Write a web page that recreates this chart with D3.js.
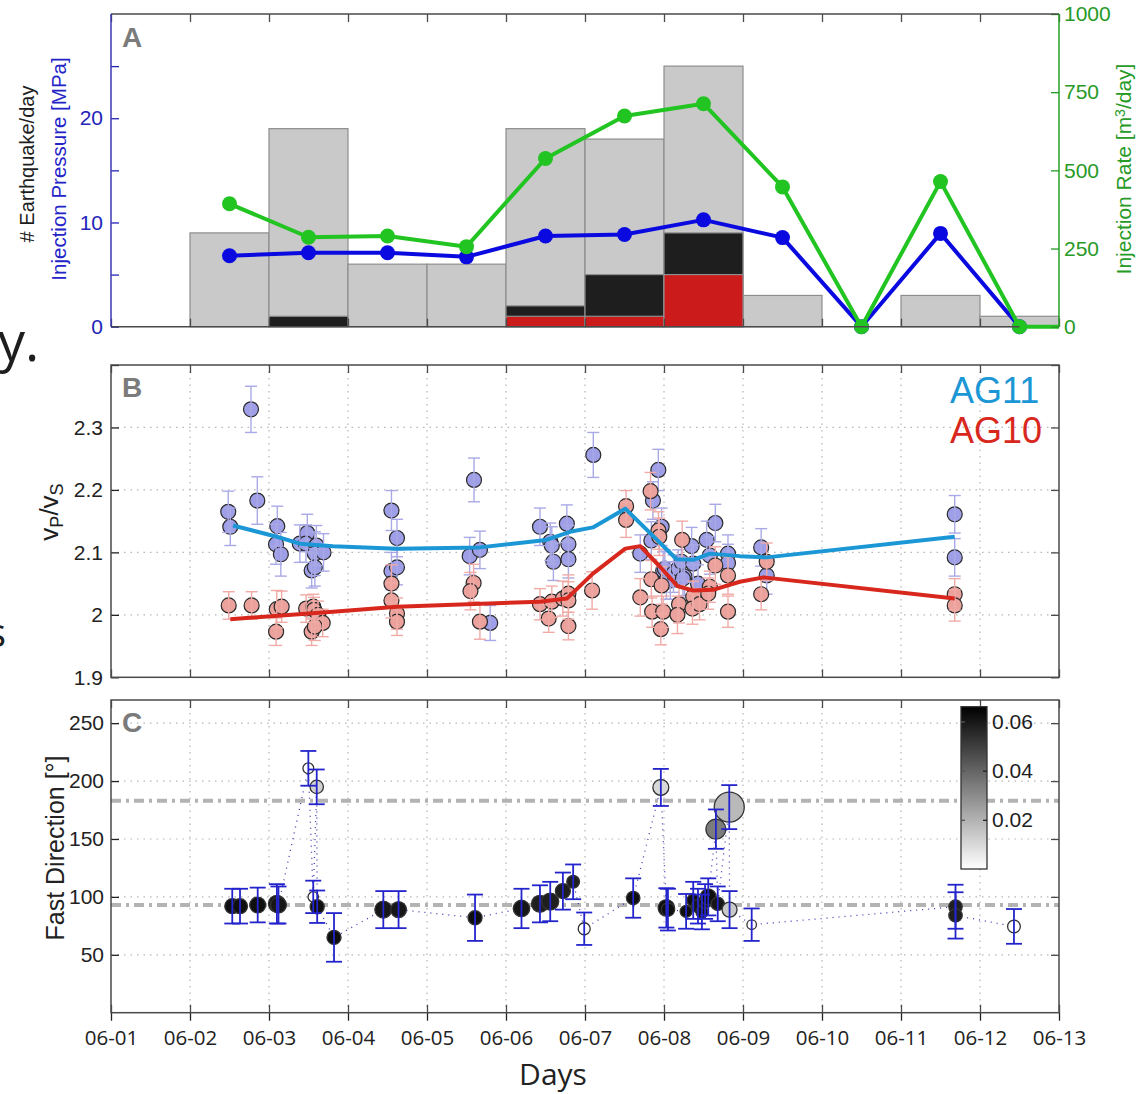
<!DOCTYPE html>
<html><head><meta charset="utf-8">
<script src="https://cdn.jsdelivr.net/npm/d3@7"></script>
<style>body{margin:0;background:#fff}svg{display:block}</style>
</head><body>
<svg id="c" width="1140" height="1094"></svg>
<script>
// ---------- shared ----------
const dayTicks = [0,1,2,3,4,5,6,7,8,9,10,11,12];
const dayLabels = ["06-01","06-02","06-03","06-04","06-05","06-06","06-07","06-08","06-09","06-10","06-11","06-12","06-13"];

// ---------- panel A ----------
const binStart = [1,2,3,4,5,6,7,8,9,10,11];
const eqTotal  = [9,19,6,6,19,18,25,3,0,3,1];
const eqLarge  = [0,1,0,0,2,5,9,0,0,0,0];
const eqFelt   = [0,0,0,0,1,1,5,0,0,0,0];
const injDay   = [1.5,2.5,3.5,4.5,5.5,6.5,7.5,8.5,9.5,10.5,11.5];
const pressure = [6.8,7.1,7.1,6.7,8.7,8.85,10.25,8.55,0,8.95,0];
const rate     = [393,286,290,256,538,674,713,447,0,464,0];
const rateEndDay = 12, rateEndVal = 0;
const aLeftTicks = [0,5,10,15,20,25];
const aRightTicks = [0,250,500,750,1000];

// ---------- panel B ----------
const ag11Day = [1.484,1.51,1.772,1.852,2.105,2.089,2.15,2.39,2.485,2.468,2.6,2.58,2.69,2.54,2.58,3.55,3.62,3.55,3.62,4.595,4.54,4.67,4.80,5.43,5.56,5.58,5.60,5.77,5.79,5.79,6.105,6.928,6.86,6.84,6.97,6.70,6.99,7.03,7.08,7.01,7.12,7.18,7.22,7.26,7.24,7.35,7.37,7.43,7.54,7.58,7.65,7.81,7.81,8.23,8.30,10.68,10.68];
const ag11Vp  = [2.165,2.141,2.329,2.183,2.142,2.113,2.097,2.114,2.131,2.114,2.111,2.098,2.1,2.071,2.076,2.167,2.123,2.07,2.076,2.216,2.094,2.104,1.987,2.141,2.117,2.111,2.085,2.146,2.113,2.089,2.256,2.232,2.183,2.119,2.141,2.098,2.071,2.055,2.055,2.074,2.066,2.074,2.085,2.061,2.058,2.11,2.082,2.05,2.12,2.095,2.147,2.098,2.083,2.108,2.063,2.161,2.092];
const ag11Err = [0.033,0.03,0.037,0.038,0.032,0.032,0.035,0.03,0.03,0.03,
                 0.032,0.035,0.03,0.028,0.03,0.032,0.03,0.03,0.028,0.035,
                 0.03,0.03,0.028,0.03,0.03,0.03,0.03,0.03,0.03,0.03,
                 0.036,0.033,0.03,0.03,0.03,0.03,0.03,0.03,0.03,0.03,
                 0.03,0.03,0.03,0.03,0.03,0.03,0.03,0.03,0.03,0.03,
                 0.03,0.03,0.03,0.03,0.03,0.03,0.03];
const ag10Day = [1.49,1.78,2.098,2.16,2.09,2.47,2.56,2.57,2.62,2.68,2.54,2.58,3.55,3.55,3.62,3.62,4.59,4.55,4.67,5.43,5.58,5.54,5.72,5.79,5.79,5.79,6.09,6.52,6.52,6.83,6.70,6.84,6.85,6.93,6.94,6.97,6.99,6.96,7.23,7.19,7.17,7.37,7.36,7.45,7.58,7.56,7.65,7.81,7.81,8.23,8.30,10.68,10.68];
const ag10Vp  = [2.015,2.015,2.009,2.013,1.973,2.010,2.013,2.008,2.0,1.987,1.973,1.981,2.05,2.023,2.002,1.989,2.051,2.038,1.989,2.017,2.021,1.994,2.026,2.034,2.023,1.982,2.039,2.174,2.152,2.198,2.028,2.057,2.005,2.135,2.125,2.047,2.005,1.977,2.12,2.017,2.0,2.029,2.01,2.017,2.045,2.034,2.079,2.063,2.005,2.033,2.085,2.033,2.015];
const ag10Err = [0.022,0.022,0.03,0.025,0.022,0.022,0.02,0.02,0.022,0.022,
                 0.022,0.022,0.03,0.028,0.025,0.022,0.03,0.03,0.028,0.025,
                 0.025,0.022,0.028,0.03,0.03,0.022,0.03,0.025,0.028,0.03,
                 0.03,0.03,0.025,0.03,0.03,0.03,0.025,0.025,0.03,0.03,
                 0.03,0.025,0.025,0.025,0.025,0.025,0.03,0.03,0.025,0.025,
                 0.03,0.025,0.025];
const ag11TrendDay = [1.545,2.1,2.39,2.81,3.62,4.67,5.51,5.81,6.1,6.51,7.16,7.37,7.58,7.96,8.30,10.68];
const ag11Trend    = [2.143,2.125,2.114,2.110,2.106,2.108,2.12,2.133,2.140,2.170,2.089,2.088,2.098,2.094,2.092,2.125];
const ag10TrendDay = [1.51,2.81,3.62,5.43,5.77,6.1,6.51,6.70,6.95,7.17,7.37,7.62,7.96,8.26,10.68];
const ag10Trend    = [1.993,2.005,2.013,2.021,2.026,2.066,2.106,2.110,2.077,2.046,2.039,2.040,2.053,2.060,2.026];
const bTicks = [1.9,2.0,2.1,2.2,2.3,2.4];
const bLabels = ["1.9","2","2.1","2.2","2.3",""];

// ---------- panel C ----------
const cDay = [1.535,1.633,1.857,2.10,2.12,2.498,2.56,2.604,2.61,2.823,3.447,3.64,4.608,5.196,5.43,5.56,5.72,5.85,5.99,6.61,6.96,7.03,7.05,7.28,7.37,7.43,7.48,7.52,7.56,7.657,7.68,7.826,7.83,8.11,10.69,10.69,11.43];
const cDir = [92,92,93,94,93,211,100,195,91.5,65,89,89,82,90,94,96,105,113,72.5,99,194.5,90.5,89,87.5,97,92,87,96,100,158.5,94,177.5,89,76,91.5,84,74.5];
const cErr = [15,15,15,17,16,15,14,15,14,21,16,16,20,17,16,17,16,15,14,17,16,17,18,15,16,15,15,15,16,17,15,19,16,14,19,20,15];
const cAmp = [0.25,0.25,0.28,0.32,0.28,0.13,0.12,0.2,0.22,0.22,0.32,0.28,0.22,0.3,0.32,0.32,0.25,0.18,0.16,0.2,0.28,0.3,0.2,0.16,0.18,0.2,0.16,0.2,0.28,0.44,0.2,1.0,0.25,0.1,0.2,0.2,0.18];
const cVal = [0.062,0.062,0.062,0.06,0.06,0,0,0.012,0.062,0.062,0.06,0.06,0.062,0.06,0.058,0.058,0.058,0.058,0,0.062,0.01,0.062,0.062,0.062,0.062,0.06,0.06,0.06,0.062,0.034,0.06,0.018,0.014,0,0.058,0.058,0];
const cRefLines = [183, 93];
const cTicks = [50,100,150,200,250];
const cbTicks = [0.02,0.04,0.06];

// ================= drawing =================
const svg = d3.select("#c");
const SANS = "'Liberation Sans', Arial, Helvetica, sans-serif";
const OPEN = "'Open Sans', 'Liberation Sans', sans-serif";
const FRAME = "#4a4a4a";
const x = d3.scaleLinear().domain([0,12]).range([111,1059]);

function styleAxis(g, color, size, family){
  g.select(".domain").remove();
  g.attr("font-family", family || SANS).attr("font-size", size || 18);
  g.selectAll(".tick line").attr("stroke", color).attr("stroke-width", 1.3);
  g.selectAll(".tick text").attr("fill", color);
}
function gridLines(g, yScale, yVals, top, bottom){
  const dash = "1.5,5";
  g.selectAll(null).data(dayTicks.slice(1,-1)).join("line")
    .attr("x1", d=>x(d)).attr("x2", d=>x(d)).attr("y1", top).attr("y2", bottom)
    .attr("stroke", "#b5b5b5").attr("stroke-width", 1.2).attr("stroke-dasharray", dash);
  g.selectAll(null).data(yVals).join("line")
    .attr("x1", x(0)).attr("x2", x(12)).attr("y1", d=>yScale(d)).attr("y2", d=>yScale(d))
    .attr("stroke", "#b5b5b5").attr("stroke-width", 1.2).attr("stroke-dasharray", dash);
}
function dayTickAxes(g, top, bottom){
  g.append("g").attr("transform", `translate(0,${top})`)
    .call(d3.axisTop(x).tickValues(dayTicks).tickSize(-8).tickFormat(""))
    .call(a=>styleAxis(a, FRAME));
  g.append("g").attr("transform", `translate(0,${bottom})`)
    .call(d3.axisBottom(x).tickValues(dayTicks).tickSize(-8).tickFormat(""))
    .call(a=>styleAxis(a, FRAME));
}
function panelLetter(t, yBase){
  svg.append("text").attr("x", 122).attr("y", yBase).text(t)
    .attr("font-family", SANS).attr("font-weight", "bold").attr("font-size", 28).attr("fill", "#7b7b7b");
}

// ---------- stray page text at left edge ----------
svg.append("text").attr("x", -2).attr("y", 361).text("y.")
  .attr("font-family", OPEN).attr("font-size", 54).attr("fill", "#1e1e1e");
svg.append("text").attr("x", -13).attr("y", 647).text("s")
  .attr("font-family", OPEN).attr("font-size", 40).attr("fill", "#1e1e1e");

// ---------- Panel A ----------
const aTop = 14, aBot = 326.7;
const yA = d3.scaleLinear().domain([0,30]).range([aBot, aTop]);
const yR = d3.scaleLinear().domain([0,1000]).range([aBot, aTop]);
const gA = svg.append("g");
const bars = binStart.map((d,i)=>({d, tot:eqTotal[i], lg:eqLarge[i], fe:eqFelt[i]}));
function barLayer(key, fill){
  gA.selectAll(null).data(bars.filter(b=>b[key]>0)).join("rect")
    .attr("x", b=>x(b.d)).attr("width", b=>x(b.d+1)-x(b.d))
    .attr("y", b=>yA(b[key])).attr("height", b=>yA(0)-yA(b[key]))
    .attr("fill", fill).attr("stroke", "#8e8e8e").attr("stroke-width", 1.2);
}
barLayer("tot", "#c9c9c9");
barLayer("lg", "#1e1e1e");
barLayer("fe", "#cc1b1b");

const presPts = injDay.map((d,i)=>[d, pressure[i]]);
const ratePts = injDay.map((d,i)=>[d, rate[i]]);
gA.append("path").datum(presPts)
  .attr("d", d3.line().x(p=>x(p[0])).y(p=>yA(p[1])))
  .attr("fill","none").attr("stroke","#0a0ae0").attr("stroke-width",4).attr("stroke-linejoin","round");
gA.selectAll(null).data(presPts).join("circle")
  .attr("cx", p=>x(p[0])).attr("cy", p=>yA(p[1])).attr("r", 7.5).attr("fill", "#0a0ae0");
gA.append("path").datum(ratePts.concat([[rateEndDay, rateEndVal]]))
  .attr("d", d3.line().x(p=>x(p[0])).y(p=>yR(p[1])))
  .attr("fill","none").attr("stroke","#22c422").attr("stroke-width",4).attr("stroke-linejoin","round");
gA.selectAll(null).data(ratePts).join("circle")
  .attr("cx", p=>x(p[0])).attr("cy", p=>yR(p[1])).attr("r", 7.5).attr("fill", "#22c422");

dayTickAxes(gA, aTop, aBot);
gA.append("g").attr("transform", `translate(${x(0)},0)`)
  .call(d3.axisLeft(yA).tickValues(aLeftTicks).tickSize(-8).tickPadding(8).tickFormat(d=>d%10===0?d:""))
  .call(a=>styleAxis(a, "#2323b8", 21));
gA.append("g").attr("transform", `translate(${x(12)},0)`)
  .call(d3.axisRight(yR).tickValues(aRightTicks).tickSize(-8).tickPadding(5).tickFormat(d3.format("d")))
  .call(a=>styleAxis(a, "#279a27", 21));
gA.append("line").attr("x1",x(0)).attr("x2",x(12)).attr("y1",aTop).attr("y2",aTop).attr("stroke",FRAME).attr("stroke-width",1.5);
gA.append("line").attr("x1",x(0)).attr("x2",x(11.5)).attr("y1",aBot).attr("y2",aBot).attr("stroke",FRAME).attr("stroke-width",1.5);
gA.append("line").attr("x1",x(0)).attr("x2",x(0)).attr("y1",aTop).attr("y2",aBot).attr("stroke","#3a3ab0").attr("stroke-width",1.5);
gA.append("line").attr("x1",x(12)).attr("x2",x(12)).attr("y1",aTop).attr("y2",aBot).attr("stroke","#22a022").attr("stroke-width",1.5);
panelLetter("A", 47);
svg.append("text").attr("transform","translate(34,164) rotate(-90)").attr("text-anchor","middle")
  .attr("font-family",SANS).attr("font-size",20).attr("fill","#1e1e1e").text("# Earthquake/day");
svg.append("text").attr("transform","translate(66,169) rotate(-90)").attr("text-anchor","middle")
  .attr("font-family",SANS).attr("font-size",20.5).attr("fill","#2323c8").text("Injection Pressure [MPa]");
const rl = svg.append("text").attr("transform","translate(1131,169) rotate(-90)").attr("text-anchor","middle")
  .attr("font-family",SANS).attr("font-size",21).attr("fill","#279a27");
rl.append("tspan").text("Injection Rate [m");
rl.append("tspan").attr("font-size",14).attr("baseline-shift","45%").text("3");
rl.append("tspan").text("/day]");

// ---------- Panel B ----------
const bTop = 365, bBot = 677.3;
const yB = d3.scaleLinear().domain([1.9,2.4]).range([bBot, bTop]);
const gB = svg.append("g");
gridLines(gB, yB, bTicks.slice(1,-1), bTop, bBot);

function scatterErr(g, days, vals, errs, fill, errColor){
  const pts = days.map((d,i)=>({d, v:vals[i], e:errs[i]}));
  g.selectAll(null).data(pts).join("circle")
    .attr("cx", p=>x(p.d)).attr("cy", p=>yB(p.v)).attr("r", 7.5)
    .attr("fill", fill).attr("stroke", "#2a2a2a").attr("stroke-width", 1.2);
  const eb = g.selectAll(null).data(pts).join("g").attr("stroke", errColor).attr("stroke-width", 1.4).attr("fill","none");
  eb.append("line").attr("x1",p=>x(p.d)).attr("x2",p=>x(p.d)).attr("y1",p=>yB(p.v-p.e)).attr("y2",p=>yB(p.v+p.e));
  eb.append("line").attr("x1",p=>x(p.d)-6).attr("x2",p=>x(p.d)+6).attr("y1",p=>yB(p.v-p.e)).attr("y2",p=>yB(p.v-p.e));
  eb.append("line").attr("x1",p=>x(p.d)-6).attr("x2",p=>x(p.d)+6).attr("y1",p=>yB(p.v+p.e)).attr("y2",p=>yB(p.v+p.e));
}
scatterErr(gB, ag11Day, ag11Vp, ag11Err, "#9f9fe8", "#a9a9e6");
scatterErr(gB, ag10Day, ag10Vp, ag10Err, "#eba29c", "#f0aaa6");
const trendLine = d3.line().x(p=>x(p[0])).y(p=>yB(p[1]));
gB.append("path").datum(ag11TrendDay.map((d,i)=>[d, ag11Trend[i]])).attr("d", trendLine)
  .attr("fill","none").attr("stroke","#1b97d6").attr("stroke-width",4).attr("stroke-linejoin","round");
gB.append("path").datum(ag10TrendDay.map((d,i)=>[d, ag10Trend[i]])).attr("d", trendLine)
  .attr("fill","none").attr("stroke","#d8281e").attr("stroke-width",4).attr("stroke-linejoin","round");

dayTickAxes(gB, bTop, bBot);
gB.append("g").attr("transform", `translate(${x(0)},0)`)
  .call(d3.axisLeft(yB).tickValues(bTicks).tickSize(-8).tickPadding(8).tickFormat((d,i)=>bLabels[i]))
  .call(a=>styleAxis(a, "#222", 21));
gB.append("g").attr("transform", `translate(${x(12)},0)`)
  .call(d3.axisRight(yB).tickValues(bTicks).tickSize(-8).tickFormat(""))
  .call(a=>styleAxis(a, FRAME));
gB.append("rect").attr("x",x(0)).attr("y",bTop).attr("width",x(12)-x(0)).attr("height",bBot-bTop)
  .attr("fill","none").attr("stroke",FRAME).attr("stroke-width",1.5);
panelLetter("B", 397);
svg.append("text").attr("x",950).attr("y",403).text("AG11").attr("font-family",SANS).attr("font-size",36).attr("fill","#1b97d6");
svg.append("text").attr("x",950).attr("y",443).text("AG10").attr("font-family",SANS).attr("font-size",36).attr("fill","#d8281e");
const vl = svg.append("text").attr("transform","translate(58,512) rotate(-90)").attr("text-anchor","middle")
  .attr("font-family",SANS).attr("font-size",26).attr("fill","#1e1e1e");
vl.append("tspan").text("v");
vl.append("tspan").attr("font-size",18).attr("baseline-shift","-30%").text("P");
vl.append("tspan").text("/v");
vl.append("tspan").attr("font-size",18).attr("baseline-shift","-30%").text("S");

// ---------- Panel C ----------
const cTop = 700, cBot = 1012.7;
const yC = d3.scaleLinear().domain([0,270]).range([cBot, cTop]);
const gC = svg.append("g");
gridLines(gC, yC, cTicks, cTop, cBot);
gC.selectAll(null).data(cRefLines).join("line")
  .attr("x1",x(0)).attr("x2",x(12)).attr("y1",d=>yC(d)).attr("y2",d=>yC(d))
  .attr("stroke","#b3b3b3").attr("stroke-width",4).attr("stroke-dasharray","10,5,3,5");

const cPts = cDay.map((d,i)=>({d, v:cDir[i], e:cErr[i], a:cAmp[i], c:cVal[i]}));
const rC = d3.scaleSqrt().domain([0,1]).range([0,15]);
const gray = d3.scaleLinear().domain([0,0.066]).range(["#ffffff","#000000"]);
gC.append("path").datum(cPts)
  .attr("d", d3.line().x(p=>x(p.d)).y(p=>yC(p.v)))
  .attr("fill","none").attr("stroke","#3c3cb0").attr("stroke-width",1.3).attr("stroke-dasharray","1,5");
gC.selectAll(null).data(cPts).join("circle")
  .attr("cx",p=>x(p.d)).attr("cy",p=>yC(p.v)).attr("r",p=>rC(p.a))
  .attr("fill",p=>gray(p.c)).attr("stroke","#333").attr("stroke-width",1.3);
const ebC = gC.selectAll(null).data(cPts).join("g").attr("stroke","#2424cc").attr("stroke-width",1.8);
ebC.append("line").attr("x1",p=>x(p.d)).attr("x2",p=>x(p.d)).attr("y1",p=>yC(p.v-p.e)).attr("y2",p=>yC(p.v+p.e));
ebC.append("line").attr("x1",p=>x(p.d)-8).attr("x2",p=>x(p.d)+8).attr("y1",p=>yC(p.v-p.e)).attr("y2",p=>yC(p.v-p.e));
ebC.append("line").attr("x1",p=>x(p.d)-8).attr("x2",p=>x(p.d)+8).attr("y1",p=>yC(p.v+p.e)).attr("y2",p=>yC(p.v+p.e));

dayTickAxes(gC, cTop, cBot);
gC.append("g").attr("transform", `translate(0,${cBot})`)
  .call(d3.axisBottom(x).tickValues(dayTicks).tickSize(8).tickPadding(10).tickFormat((d,i)=>dayLabels[i]))
  .call(a=>styleAxis(a, "#222", 20.5, OPEN));
gC.append("g").attr("transform", `translate(${x(0)},0)`)
  .call(d3.axisLeft(yC).tickValues(cTicks).tickSize(-8).tickPadding(7))
  .call(a=>styleAxis(a, "#222", 21));
gC.append("g").attr("transform", `translate(${x(12)},0)`)
  .call(d3.axisRight(yC).tickValues(cTicks).tickSize(-8).tickFormat(""))
  .call(a=>styleAxis(a, FRAME));
gC.append("rect").attr("x",x(0)).attr("y",cTop).attr("width",x(12)-x(0)).attr("height",cBot-cTop)
  .attr("fill","none").attr("stroke",FRAME).attr("stroke-width",1.5);
panelLetter("C", 732);
svg.append("text").attr("transform","translate(64,848) rotate(-90)").attr("text-anchor","middle")
  .attr("font-family",SANS).attr("font-size",25).attr("fill","#222").text("Fast Direction [°]");
svg.append("text").attr("x",553).attr("y",1085).attr("text-anchor","middle")
  .attr("font-family",OPEN).attr("font-size",30).attr("fill","#222").text("Days");

// colorbar
const cbX = 961, cbW = 26, cbTop = 706.7, cbBot = 869;
const yCb = d3.scaleLinear().domain([0,0.066]).range([cbBot, cbTop]);
const grad = svg.append("defs").append("linearGradient").attr("id","cbg")
  .attr("x1","0").attr("y1","1").attr("x2","0").attr("y2","0");
grad.append("stop").attr("offset","0%").attr("stop-color",gray(0));
grad.append("stop").attr("offset","100%").attr("stop-color",gray(0.066));
svg.append("rect").attr("x",cbX).attr("y",cbTop).attr("width",cbW).attr("height",cbBot-cbTop)
  .attr("fill","url(#cbg)").attr("stroke","#333").attr("stroke-width",1.3);
svg.append("g").attr("transform",`translate(${cbX},0)`)
  .call(d3.axisLeft(yCb).tickValues(cbTicks).tickSize(-4).tickFormat(""))
  .call(a=>styleAxis(a,"#555"));
svg.append("g").attr("transform",`translate(${cbX+cbW},0)`)
  .call(d3.axisRight(yCb).tickValues(cbTicks).tickSize(-4).tickPadding(5).tickFormat(d3.format(".2f")))
  .call(a=>styleAxis(a,"#1e1e1e",21));
</script>
</body></html>
